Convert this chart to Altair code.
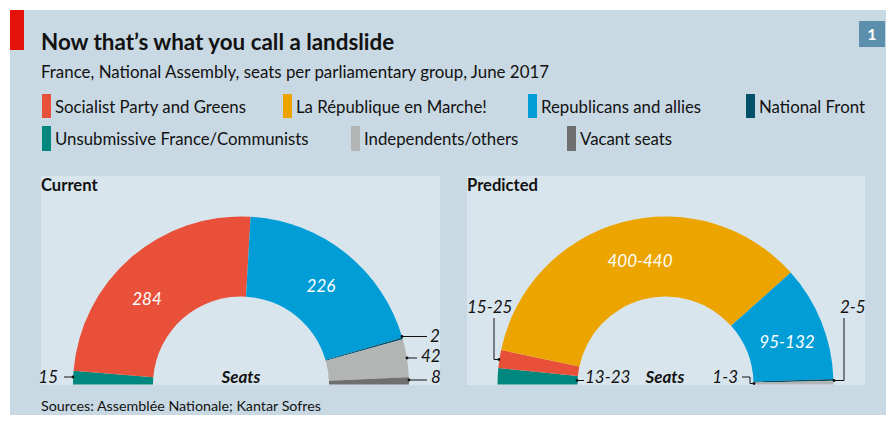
import math
import altair as alt
import pandas as pd

OFF = 8  # page margin
FONT = "Lato"

# ---------------- data ----------------
groups = ["Unsubmissive France/Communists", "Socialist Party and Greens", "La République en Marche!",
          "Republicans and allies", "National Front", "Independents/others", "Vacant seats"]
group_colors = ["#00877e", "#e9503a", "#eca400", "#009dd7", "#00506a", "#b3b4b4", "#706f6f"]
current_seats = [15, 284, 0, 226, 2, 42, 8]
predicted_seats = [18, 20, 405, 128, 2, 4, 0]
predicted_ranges = ["13-23", "15-25", "400-440", "95-132", "1-3", "2-5", ""]
total_seats = 577

title = "Now that\u2019s what you call a landslide"
subtitle = "France, National Assembly, seats per parliamentary group, June 2017"
source = "Sources: Assemblée Nationale; Kantar Sofres"
panel_titles = ["Current", "Predicted"]

BG = "#c9d9e3"
PANEL = "#d9e5ec"
INK = "#121212"

W, H = 878, 407


def px(v):
    return v - OFF


# ---------------- decorations ----------------
rects = pd.DataFrame([
    dict(x=px(10), x2=W, y=px(10), y2=H, c=BG),
    dict(x=px(10), x2=px(24), y=px(10), y2=px(50), c="#e3120b"),
    dict(x=px(859), x2=px(885), y=px(21), y2=px(47), c="#5b8fab"),
    dict(x=px(41), x2=px(440), y=px(176), y2=px(385), c=PANEL),
    dict(x=px(467), x2=px(865), y=px(176), y2=px(385), c=PANEL),
])
rect_layer = alt.Chart(rects).mark_rect().encode(
    x=alt.X("x:Q", scale=None), x2="x2:Q",
    y=alt.Y("y:Q", scale=None), y2="y2:Q",
    color=alt.Color("c:N", scale=None),
)

# legend swatches
leg_pos = {  # swatch left x, row
    "Socialist Party and Greens": (42, 0),
    "La République en Marche!": (283, 0),
    "Republicans and allies": (528, 0),
    "National Front": (746, 0),
    "Unsubmissive France/Communists": (42, 1),
    "Independents/others": (351, 1),
    "Vacant seats": (567, 1),
}
row_y = [(94, 118, 113), (126, 151, 145)]
leg_rows = []
for g, col in zip(groups, group_colors):
    lx, r = leg_pos[g]
    leg_rows.append(dict(x=px(lx), x2=px(lx + 9), y=px(row_y[r][0]), y2=px(row_y[r][1]),
                         c=col, tx=px(lx + 13), ty=px(row_y[r][2]), t=g))
leg = pd.DataFrame(leg_rows)
leg_sw = alt.Chart(leg).mark_rect().encode(
    x=alt.X("x:Q", scale=None), x2="x2:Q",
    y=alt.Y("y:Q", scale=None), y2="y2:Q",
    color=alt.Color("c:N", scale=None),
)
leg_tx = alt.Chart(leg).mark_text(align="left", baseline="alphabetic", font=FONT, fontSize=16.8,
                                  color=INK).encode(
    x=alt.X("tx:Q", scale=None), y=alt.Y("ty:Q", scale=None), text="t:N")


def text_layer(rows, **kw):
    df = pd.DataFrame(rows, columns=["x", "y", "t"])
    df["x"] = df["x"].map(px)
    df["y"] = df["y"].map(px)
    return alt.Chart(df).mark_text(baseline="alphabetic", font=FONT, **kw).encode(
        x=alt.X("x:Q", scale=None), y=alt.Y("y:Q", scale=None), text="t:N")


title_l = text_layer([(41, 50, title)], align="left", fontSize=22.4, fontWeight="bold", color=INK)
sub_l = text_layer([(41, 78, subtitle)], align="left", fontSize=16.9, color=INK)
src_l = text_layer([(41, 411, source)], align="left", fontSize=14.3, color=INK)
panel_l = text_layer([(41, 191, panel_titles[0]), (467, 191, panel_titles[1])],
                     align="left", fontSize=16.6, fontWeight="bold", color=INK)
num_l = text_layer([(872, 40, "1")], align="center", fontSize=16, fontWeight="bold", color="white")
seats_l = text_layer([(241, 383, "Seats"), (665, 383, "Seats")], align="center", fontSize=17,
                     fontWeight="bold", fontStyle="italic", color=INK)

# inner (white) labels
inner_l = text_layer([
    (147, 305, str(current_seats[1])),
    (321, 292, str(current_seats[3])),
    (640, 267, predicted_ranges[2]),
    (787, 348, predicted_ranges[3]),
], align="center", fontSize=17, fontStyle="italic", color="white")

# outer labels
outer_left = text_layer([
    (58, 383, str(current_seats[0])),
    (738, 383, predicted_ranges[4]),
], align="right", fontSize=17, fontStyle="italic", color=INK)
outer_right = text_layer([
    (430, 342, str(current_seats[4])),
    (421, 362, str(current_seats[5])),
    (431, 383, str(current_seats[6])),
    (585, 383, predicted_ranges[0]),
    (467, 313, predicted_ranges[1]),
    (840, 313, predicted_ranges[5]),
], align="left", fontSize=17, fontStyle="italic", color=INK)

# leader lines
segs = pd.DataFrame([
    (64, 377, 73, 377),
    (402, 336.5, 427, 336.5),
    (407, 358, 417, 358),
    (409, 380, 427, 380),
    (577, 380.5, 584, 380.5),
    (494, 318, 494, 359.5),
    (494, 359.5, 499, 359.5),
    (844, 318, 844, 380.5),
    (834, 380.5, 844, 380.5),
    (742, 377, 750, 377),
    (750, 377, 750, 383.5),
    (750, 383.5, 754, 383.5),
], columns=["x", "y", "x2", "y2"]).apply(lambda s: s.map(px))
seg_l = alt.Chart(segs).mark_rule(color=INK, strokeWidth=1).encode(
    x=alt.X("x:Q", scale=None), x2="x2:Q", y=alt.Y("y:Q", scale=None), y2="y2:Q")
dots = pd.DataFrame([(73, 377), (402, 336.5), (407, 358), (409, 380), (577, 380.5),
                     (499, 359.5), (834, 380.5), (754, 383.5)], columns=["x", "y"]).apply(lambda s: s.map(px))
dot_l = alt.Chart(dots).mark_circle(size=8, color=INK, opacity=1).encode(
    x=alt.X("x:Q", scale=None), y=alt.Y("y:Q", scale=None))


# ---------------- arcs ----------------
def arc_layer(seats, cx, cy):
    df = pd.DataFrame({"group": groups, "seats": seats, "order": list(range(len(groups)))})
    return alt.Chart(df).mark_arc(radius=168, radius2=88, x=px(cx), y=px(cy)).encode(
        theta=alt.Theta("seats:Q", stack=True,
                        scale=alt.Scale(domain=[0, total_seats], range=[1.5 * math.pi, 2.5 * math.pi])),
        color=alt.Color("group:N", scale=alt.Scale(domain=groups, range=group_colors), legend=None),
        order=alt.Order("order:Q"),
    )


arc_cur = arc_layer(current_seats, 241, 384.5)
arc_pred = arc_layer(predicted_seats, 665.5, 384.5)

chart = alt.layer(
    rect_layer, leg_sw, leg_tx, title_l, sub_l, src_l, panel_l, num_l,
    arc_cur, arc_pred, seats_l, inner_l, outer_left, outer_right, seg_l, dot_l,
).properties(
    width=W, height=H, padding=0, background="white",
    autosize=alt.AutoSizeParams(type="none"),
).configure_view(stroke=None)

chart.save("out.html", embed_options={"renderer": "svg", "actions": False})
